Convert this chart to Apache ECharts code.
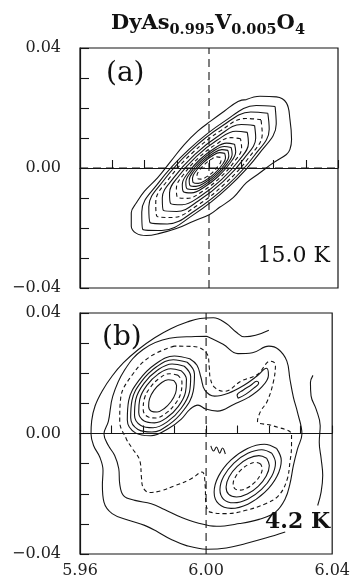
<!DOCTYPE html>
<html>
<head>
<meta charset="utf-8">
<script src="https://cdn.jsdelivr.net/npm/echarts@6/dist/echarts.min.js"></script>
<style>
html, body { margin: 0; padding: 0; background: #fff; }
#main { width: 353px; height: 579px; }
</style>
</head>
<body>
<div id="main"></div>
<script>
// axis labels
var xTickLabels = ['5.96', '6.00', '6.04'];
var yTickLabels = ['0.04', '0.00', '-0.04'];

// panel (a), 15.0 K : contours from outside to inside
var aC1 = [[6.0116,0.0228],[6.0158,0.0239],[6.0209,0.0237],[6.0240,0.0217],[6.0251,0.0162],[6.0256,0.0095],[6.0251,0.0062],[6.0240,0.0045],[6.0199,0.0017],[6.0158,-0.0016],[6.0116,-0.0049],[6.0075,-0.0099],[6.0033,-0.0131],[6.0002,-0.0155],[5.9950,-0.0178],[5.9899,-0.0202],[5.9847,-0.0218],[5.9806,-0.0225],[5.9775,-0.0218],[5.9759,-0.0194],[5.9759,-0.0149],[5.9775,-0.0116],[5.9800,-0.0077],[5.9841,-0.0032],[5.9882,0.0023],[5.9924,0.0079],[5.9965,0.0123],[6.0006,0.0157],[6.0048,0.0190],[6.0090,0.0222]];
var aC2 = [[6.0205,0.0205],[6.01465,0.02085],[6.00488,0.01562],[5.9938,0.0062],[5.98438,-0.00488],[5.97915,-0.01465],[5.9795,-0.0205],[5.98535,-0.02085],[5.99512,-0.01562],[6.0062,-0.0062],[6.01562,0.00488],[6.02085,0.01465]];
var aC3 = [[6.01824,0.01824],[6.01293,0.01867],[6.00416,0.01408],[5.99427,0.00573],[5.98592,-0.00416],[5.98133,-0.01293],[5.98176,-0.01824],[5.98707,-0.01867],[5.99584,-0.01408],[6.00573,-0.00573],[6.01408,0.00416],[6.01867,0.01293]];
var aC4 = [[6.01612,0.01612],[6.01141,0.01651],[6.00365,0.01247],[5.99491,0.00509],[5.98753,-0.00365],[5.98349,-0.01141],[5.98388,-0.01612],[5.98859,-0.01651],[5.99635,-0.01247],[6.00509,-0.00509],[6.01247,0.00365],[6.01651,0.01141]];
var aC5 = [[6.01414,0.01414],[6.01002,0.01448],[6.00322,0.01092],[5.99555,0.00445],[5.98908,-0.00322],[5.98552,-0.01002],[5.98586,-0.01414],[5.98998,-0.01448],[5.99678,-0.01092],[6.00445,-0.00445],[6.01092,0.00322],[6.01448,0.01002]];
var aC6 = [[6.01188,0.01188],[6.00834,0.01224],[6.00257,0.00931],[5.99611,0.00389],[5.99069,-0.00257],[5.98776,-0.00834],[5.98812,-0.01188],[5.99166,-0.01224],[5.99743,-0.00931],[6.00389,-0.00389],[6.00931,0.00257],[6.01224,0.00834]];
var aC7 = [[6.00976,0.00976],[6.00679,0.01011],[6.002,0.00776],[5.99668,0.00332],[5.99224,-0.002],[5.98989,-0.00679],[5.99024,-0.00976],[5.99321,-0.01011],[5.998,-0.00776],[6.00332,-0.00332],[6.00776,0.002],[6.01011,0.00679]];
var aC8 = [[6.00792,0.00792],[6.00544,0.00828],[6.00151,0.00641],[5.99717,0.00283],[5.99359,-0.00151],[5.99172,-0.00544],[5.99208,-0.00792],[5.99456,-0.00828],[5.99849,-0.00641],[6.00283,-0.00283],[6.00641,0.00151],[6.00828,0.00544]];
var aC9 = [[6.00686,0.00686],[6.0047,0.00718],[6.00129,0.00557],[5.99753,0.00247],[5.99443,-0.00129],[5.99282,-0.0047],[5.99314,-0.00686],[5.9953,-0.00718],[5.99871,-0.00557],[6.00247,-0.00247],[6.00557,0.00129],[6.00718,0.0047]];
var aC10 = [[6.00587,0.00587],[6.00402,0.00614],[6.0011,0.00478],[5.99788,0.00212],[5.99522,-0.0011],[5.99386,-0.00402],[5.99413,-0.00587],[5.99598,-0.00614],[5.9989,-0.00478],[6.00212,-0.00212],[6.00478,0.0011],[6.00614,0.00402]];
var aC11 = [[6.00488,0.00488],[6.00334,0.00512],[6.00091,0.00397],[5.99823,0.00177],[5.99603,-0.00091],[5.99488,-0.00334],[5.99512,-0.00488],[5.99666,-0.00512],[5.99909,-0.00397],[6.00177,-0.00177],[6.00397,0.00091],[6.00512,0.00334]];
var aC12 = [[6.00354,0.00354],[6.00243,0.00371],[6.00067,0.00287],[5.99873,0.00127],[5.99713,-0.00067],[5.99629,-0.00243],[5.99646,-0.00354],[5.99757,-0.00371],[5.99933,-0.00287],[6.00127,-0.00127],[6.00287,0.00067],[6.00371,0.00243]];
var aLoops = [aC1, aC2, aC3, aC4, aC5, aC6, aC7, aC8, aC9, aC10, aC11, aC12];
var aDashed = [false, false, false, true, false, false, true, false, false, false, false, true];

// panel (b), 4.2 K
var bOuter = [[6.0199,0.0343],[6.0157,0.0326],[6.0121,0.0321],[6.0095,0.0337],[6.0064,0.0365],[6.0023,0.0384],[5.9981,0.0382],[5.9940,0.0370],[5.9888,0.0348],[5.9837,0.0318],[5.9785,0.0279],[5.9738,0.0235],[5.9702,0.0191],[5.9671,0.0142],[5.9648,0.0092],[5.9637,0.0042],[5.9635,-0.0002],[5.9643,-0.0040],[5.9663,-0.0079],[5.9673,-0.0123],[5.9671,-0.0172],[5.9676,-0.0228],[5.9702,-0.0266],[5.9754,-0.0288],[5.9805,-0.0305],[5.9847,-0.0327],[5.9888,-0.0351],[5.9940,-0.0373],[6.0002,-0.0384],[6.0064,-0.0380],[6.0126,-0.0365],[6.0189,-0.0347],[6.0251,-0.0327]];
var bRight = [[6.0339,0.0193],[6.0331,0.0169],[6.0333,0.0125],[6.0349,0.0081],[6.0362,0.0026],[6.0359,-0.0029],[6.0365,-0.0084],[6.0370,-0.0139],[6.0365,-0.0194],[6.0354,-0.0239]];
var bWiggle = [[6.0015,-0.0041],[6.0024,-0.0058],[6.0033,-0.0045],[6.0043,-0.0065],[6.0052,-0.0048],[6.0061,-0.0068]];
var bC2 = [[6.0002,0.0323],[6.0054,0.0296],[6.0101,0.0265],[6.0147,0.0268],[6.0199,0.0290],[6.0230,0.0279],[6.0256,0.0241],[6.0266,0.0180],[6.0277,0.0120],[6.0290,0.0070],[6.0304,-0.0002],[6.0290,-0.0051],[6.0277,-0.0106],[6.0266,-0.0167],[6.0251,-0.0217],[6.0220,-0.0261],[6.0168,-0.0285],[6.0106,-0.0299],[6.0033,-0.0308],[5.9971,-0.0296],[5.9919,-0.0277],[5.9868,-0.0252],[5.9826,-0.0233],[5.9774,-0.0222],[5.9738,-0.0206],[5.9726,-0.0167],[5.9723,-0.0117],[5.9710,-0.0073],[5.9690,-0.0040],[5.9676,-0.0002],[5.9690,0.0040],[5.9704,0.0124],[5.9741,0.0210],[5.9800,0.0279],[5.9884,0.0316],[5.9965,0.0322]];
var bC3 = [[5.9899,0.0290],[5.9822,0.0255],[5.9766,0.0195],[5.9729,0.0117],[5.9726,0.0041],[5.9747,-0.0018],[5.9764,-0.0047],[5.9790,-0.0091],[5.9795,-0.0146],[5.9800,-0.0179],[5.9821,-0.0196],[5.9857,-0.0190],[5.9899,-0.0174],[5.9950,-0.0152],[5.9987,-0.0128],[5.9997,-0.0172],[5.9999,-0.0228],[6.0013,-0.0261],[6.0064,-0.0266],[6.0126,-0.0255],[6.0189,-0.0233],[6.0230,-0.0206],[6.0256,-0.0156],[6.0266,-0.0095],[6.0271,-0.0040],[6.0271,-0.0003],[6.0214,0.0025],[6.0163,0.0041],[6.0173,0.0074],[6.0194,0.0107],[6.0214,0.0174],[6.0220,0.0229],[6.0204,0.0240],[6.0163,0.0196],[6.0111,0.0174],[6.0059,0.0140],[6.0028,0.0152],[6.0013,0.0185],[6.0010,0.0220],[6.0004,0.0262],[5.9960,0.0289]];
var bP1a = [[5.98976,0.01758],[5.98793,0.01785],[5.98564,0.01668],[5.9835,0.01439],[5.98208,0.0116],[5.98177,0.00905],[5.98264,0.00742],[5.98447,0.00715],[5.98676,0.00832],[5.9889,0.01061],[5.99032,0.0134],[5.99063,0.01595]];
var bP1b = [[5.99102,0.01938],[5.9884,0.01984],[5.98521,0.01833],[5.98227,0.01526],[5.98039,0.01145],[5.98006,0.00792],[5.98138,0.00562],[5.984,0.00516],[5.98719,0.00667],[5.99013,0.00974],[5.99201,0.01355],[5.99234,0.01708]];
var bP1c = [[5.99205,0.02085],[5.98877,0.02148],[5.98481,0.01971],[5.9812,0.016],[5.97895,0.01135],[5.97863,0.00702],[5.98035,0.00415],[5.98363,0.00352],[5.98759,0.00529],[5.9912,0.009],[5.99345,0.01365],[5.99377,0.01798]];
var bP1d = [[5.99309,0.02233],[5.98921,0.02308],[5.98454,0.02099],[5.9803,0.01663],[5.97766,0.01117],[5.97729,0.00606],[5.97931,0.00267],[5.98319,0.00192],[5.98786,0.00401],[5.9921,0.00837],[5.99474,0.01383],[5.99511,0.01894]];
var bP1e = [[5.99401,0.02364],[5.9896,0.02449],[5.98429,0.02215],[5.97948,0.01721],[5.97649,0.01101],[5.97608,0.00521],[5.97839,0.00136],[5.9828,0.00051],[5.98811,0.00285],[5.99292,0.00779],[5.99591,0.01399],[5.99632,0.01979]];
var bP1f = [[5.99481,0.02479],[5.98993,0.02575],[5.98406,0.02316],[5.97875,0.01772],[5.97544,0.01088],[5.97501,0.00447],[5.97759,0.00021],[5.98247,-0.00075],[5.98834,0.00184],[5.99214,0.00479],[5.99494,0.0081],[5.99742,0.00942],[5.99991,0.0081],[6.00363,0.00744],[6.00891,0.00975],[6.01357,0.01207],[6.01761,0.01537],[6.01978,0.01934],[6.01916,0.02165],[6.01606,0.01901],[6.01202,0.01603],[6.00705,0.01339],[6.0027,0.0124],[5.9996,0.01438],[5.99835,0.01868],[5.99711,0.02264]];
var bP2a = [[6.0173,-0.0101],[6.01569,-0.00959],[6.01341,-0.01031],[6.01108,-0.01208],[6.00931,-0.01441],[6.00859,-0.01669],[6.0091,-0.0183],[6.01071,-0.01881],[6.01299,-0.01809],[6.01532,-0.01632],[6.01709,-0.01399],[6.01781,-0.01171]];
var bP2b = [[6.01921,-0.00819],[6.01674,-0.00734],[6.01332,-0.00832],[6.00988,-0.01088],[6.00732,-0.01432],[6.00634,-0.01774],[6.00719,-0.02021],[6.00966,-0.02106],[6.01308,-0.02008],[6.01652,-0.01752],[6.01908,-0.01408],[6.02006,-0.01066]];
var bP2c = [[6.02084,-0.00656],[6.01763,-0.00539],[6.01323,-0.00659],[6.00882,-0.00982],[6.00559,-0.01423],[6.00439,-0.01863],[6.00556,-0.02184],[6.00877,-0.02301],[6.01317,-0.02181],[6.01758,-0.01858],[6.02081,-0.01417],[6.02201,-0.00977]];
var bP2d = [[6.02239,-0.00501],[6.01847,-0.00355],[6.01315,-0.00495],[6.00783,-0.00883],[6.00395,-0.01415],[6.00255,-0.01947],[6.00401,-0.02339],[6.00793,-0.02485],[6.01325,-0.02345],[6.01857,-0.01957],[6.02245,-0.01425],[6.02385,-0.00893]];
var bIsland = [[6.01016,0.01174],[6.01264,0.01306],[6.01512,0.01504],[6.01668,0.01669],[6.01606,0.01736],[6.01419,0.01603],[6.01171,0.01438],[6.00984,0.01273]];
var bDot = [[5.9950, 0.0048]];
var bLoops = [bC2, bC3, bP1a, bP1b, bP1c, bP1d, bP1e, bP1f, bP2a, bP2b, bP2c, bP2d, bIsland];
var bDashed = [false, true, false, true, false, false, false, false, true, false, false, false, false];
var bOpen = [bOuter, bRight, bWiggle];

var crossA = { h: [[5.96, 0], [6.04, 0]], v: [[6.00, -0.04], [6.00, 0.04]] };
var crossB = { h: [[5.966, 0], [6.036, 0]], v: [[6.00, -0.04], [6.00, 0.04]] };

var chartDom = document.getElementById('main');
var myChart = echarts.init(chartDom);
var option;

var SERIF = 'DejaVu Serif';
var INK = '#151515';

function closeLoop(pts) {
    return pts.concat([pts[0]]);
}

function lineSeries(pts, idx, dashed, closed) {
    return {
        type: 'line',
        xAxisIndex: idx,
        yAxisIndex: idx,
        data: closed ? closeLoop(pts) : pts,
        showSymbol: false,
        smooth: 0.4,
        silent: true,
        z: 3,
        lineStyle: { color: INK, width: 1.1, type: dashed ? [4, 3] : 'solid' }
    };
}

function crossSeries(pts, idx) {
    return {
        type: 'line', xAxisIndex: idx, yAxisIndex: idx, data: pts,
        showSymbol: false, silent: true, z: 2,
        lineStyle: { color: INK, width: 1.1, type: [8, 5] }
    };
}

function fmt(list) {
    return function (v) {
        var s = (Math.round(v * 100) / 100).toFixed(2);
        if (s === '-0.00') s = '0.00';
        return list.indexOf(s) >= 0 ? s.replace('-', '\u2212') : '';
    };
}

function xAxisFor(idx, showLabel) {
    return {
        type: 'value', gridIndex: idx, min: 5.96, max: 6.04, interval: 0.01,
        axisLine: { lineStyle: { color: INK, width: 1.2 } },
        axisTick: { inside: true, length: 8, lineStyle: { color: INK, width: 1.1 } },
        splitLine: { show: false },
        axisLabel: { show: showLabel, margin: 9, color: '#222', fontFamily: SERIF, fontSize: 16, formatter: fmt(xTickLabels) }
    };
}

function yAxisFor(idx) {
    return {
        type: 'value', gridIndex: idx, min: -0.04, max: 0.04, interval: 0.01,
        axisLine: { lineStyle: { color: INK, width: 1.2 } },
        axisTick: { inside: true, length: 9, lineStyle: { color: INK, width: 1.1 } },
        splitLine: { show: false },
        axisLabel: { margin: 19, color: '#222', fontFamily: SERIF, fontSize: 16, formatter: fmt(yTickLabels) }
    };
}

var series = [];
series.push(crossSeries(crossA.h, 0), crossSeries(crossA.v, 0));
series.push(crossSeries(crossB.h, 1), crossSeries(crossB.v, 1));
aLoops.forEach(function (pts, i) {
    series.push(lineSeries(pts, 0, aDashed[i], true));
});
bOpen.forEach(function (pts) {
    series.push(lineSeries(pts, 1, false, false));
});
bLoops.forEach(function (pts, i) {
    series.push(lineSeries(pts, 1, bDashed[i], true));
});
series.push({
    type: 'scatter', xAxisIndex: 1, yAxisIndex: 1, data: bDot, symbol: 'emptyCircle',
    symbolSize: 5, silent: true, itemStyle: { color: '#fff', borderColor: INK, borderWidth: 1.1 }
});

option = {
    animation: false,
    backgroundColor: '#fff',
    grid: [
        { left: 80, top: 48, width: 258, height: 240, show: true, borderColor: INK, borderWidth: 1.2 },
        { left: 80, top: 313, width: 258, height: 242, show: true, borderColor: INK, borderWidth: 1.2 }
    ],
    xAxis: [xAxisFor(0, false), xAxisFor(1, true)],
    yAxis: [yAxisFor(0), yAxisFor(1)],
    graphic: [
        {
            type: 'text', x: 208, y: 10,
            style: {
                text: 'DyAs{s|0.995}V{s|0.005}O{s|4}',
                fill: '#111', font: 'bold 21px "DejaVu Serif"', align: 'center',
                rich: { s: { fontSize: 14.5, fontWeight: 'bold', fontFamily: SERIF, padding: [13, 0, 0, 0] } }
            }
        },
        { type: 'text', x: 106, y: 74, style: { text: '(a)', fill: '#111', font: '28px "DejaVu Serif"', verticalAlign: 'middle' } },
        { type: 'text', x: 102, y: 338, style: { text: '(b)', fill: '#111', font: '28px "DejaVu Serif"', verticalAlign: 'middle' } },
        { type: 'text', x: 330, y: 256, style: { text: '15.0 K', fill: '#111', font: '22px "DejaVu Serif"', align: 'right', verticalAlign: 'middle' } },
        { type: 'text', x: 330, y: 522, style: { text: '4.2 K', fill: '#111', font: 'bold 22px "DejaVu Serif"', align: 'right', verticalAlign: 'middle' } }
    ],
    series: series
};

option && myChart.setOption(option);
</script>
</body>
</html>
